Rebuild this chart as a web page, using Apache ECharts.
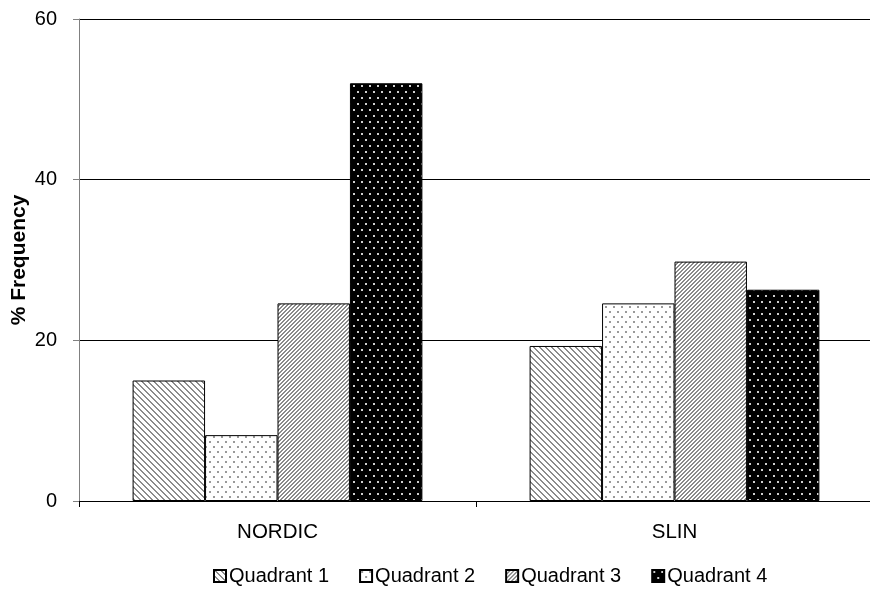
<!DOCTYPE html>
<html>
<head>
<meta charset="utf-8">
<script src="https://cdn.jsdelivr.net/npm/echarts@6/dist/echarts.min.js"></script>
<style>
  html, body { margin: 0; padding: 0; background: #fff; }
  #chart { width: 870px; height: 589px; }
</style>
</head>
<body>
<div id="chart"></div>
<script>
// Frequency (%) of observations in each quadrant, per site
const categories = ['NORDIC', 'SLIN'];
const seriesNames = ['Quadrant 1', 'Quadrant 2', 'Quadrant 3', 'Quadrant 4'];
const quadrant1 = [15.0, 19.3];
const quadrant2 = [8.2, 24.6];
const quadrant3 = [24.6, 29.8];
const quadrant4 = [52.0, 26.3];
const yTicks = [0, 20, 40, 60];

const FONT = 'Liberation Sans, Arial, sans-serif';

// Monochrome fill patterns drawn on small square tiles
function stripeTile(size, width, dir, color) {
  const c = document.createElement('canvas');
  c.width = size; c.height = size;
  const g = c.getContext('2d');
  g.fillStyle = '#ffffff';
  g.fillRect(0, 0, size, size);
  g.fillStyle = color;
  for (let y = 0; y < size; y++) {
    for (let k = 0; k < width; k++) {
      const base = dir > 0 ? (size - 1 - y) : y;
      g.fillRect((base + k) % size, y, 1, 1);
    }
  }
  return { image: c, repeat: 'repeat' };
}
function dotTile(w, h, bg, dot) {
  const c = document.createElement('canvas');
  c.width = w; c.height = h;
  const g = c.getContext('2d');
  g.fillStyle = bg;
  g.fillRect(0, 0, w, h);
  g.fillStyle = dot;
  g.fillRect(1, 1, 2, 2);
  g.fillRect(1 + w / 2, 1 + h / 2, 2, 2);
  return { image: c, repeat: 'repeat' };
}

const fills = [
  stripeTile(6, 2, -1, '#8c8c8c'),
  dotTile(8, 10, '#ffffff', '#9a9a9a'),
  stripeTile(4, 2, 1, '#8a8a8a'),
  dotTile(8, 12, '#000000', '#d0d0d0')
];
const values = [quadrant1, quadrant2, quadrant3, quadrant4];

const chart = echarts.init(document.getElementById('chart'), null, { renderer: 'canvas' });
chart.setOption({
  animation: false,
  backgroundColor: '#ffffff',
  grid: { left: 79, right: -3, top: 19, bottom: 88, containLabel: false, outerBoundsMode: 'none' },
  legend: {
    top: 566,
    left: 213,
    padding: 0,
    itemWidth: 12,
    itemHeight: 12,
    itemGap: 30,
    icon: 'rect',
    textStyle: { fontFamily: FONT, fontSize: 20, color: '#000', padding: [0, 0, 0, -2] },
    data: seriesNames
  },
  xAxis: {
    type: 'category',
    data: categories,
    axisLine: { lineStyle: { color: '#000', width: 1 } },
    axisTick: { show: true, length: 6, lineStyle: { color: '#000' } },
    axisLabel: { fontFamily: FONT, fontSize: 20.5, color: '#000', margin: 21 }
  },
  yAxis: {
    type: 'value',
    min: yTicks[0],
    max: yTicks[yTicks.length - 1],
    interval: yTicks[1] - yTicks[0],
    name: '% Frequency',
    nameLocation: 'middle',
    nameGap: 49,
    nameMoveOverlap: false,
    nameTextStyle: { fontFamily: FONT, fontSize: 21, fontWeight: 'bold', color: '#000' },
    axisLine: { show: true, lineStyle: { color: '#808080', width: 1 } },
    axisTick: { show: true, length: 6, lineStyle: { color: '#808080' } },
    axisLabel: { fontFamily: FONT, fontSize: 20, color: '#000', margin: 22 },
    splitLine: { show: true, lineStyle: { color: '#000', width: 1 } }
  },
  series: seriesNames.map((name, i) => ({
    name: name,
    type: 'bar',
    data: values[i],
    barGap: '0%',
    barCategoryGap: '27%',
    itemStyle: { color: fills[i], borderColor: '#000', borderWidth: 1 }
  }))
});
</script>
</body>
</html>
